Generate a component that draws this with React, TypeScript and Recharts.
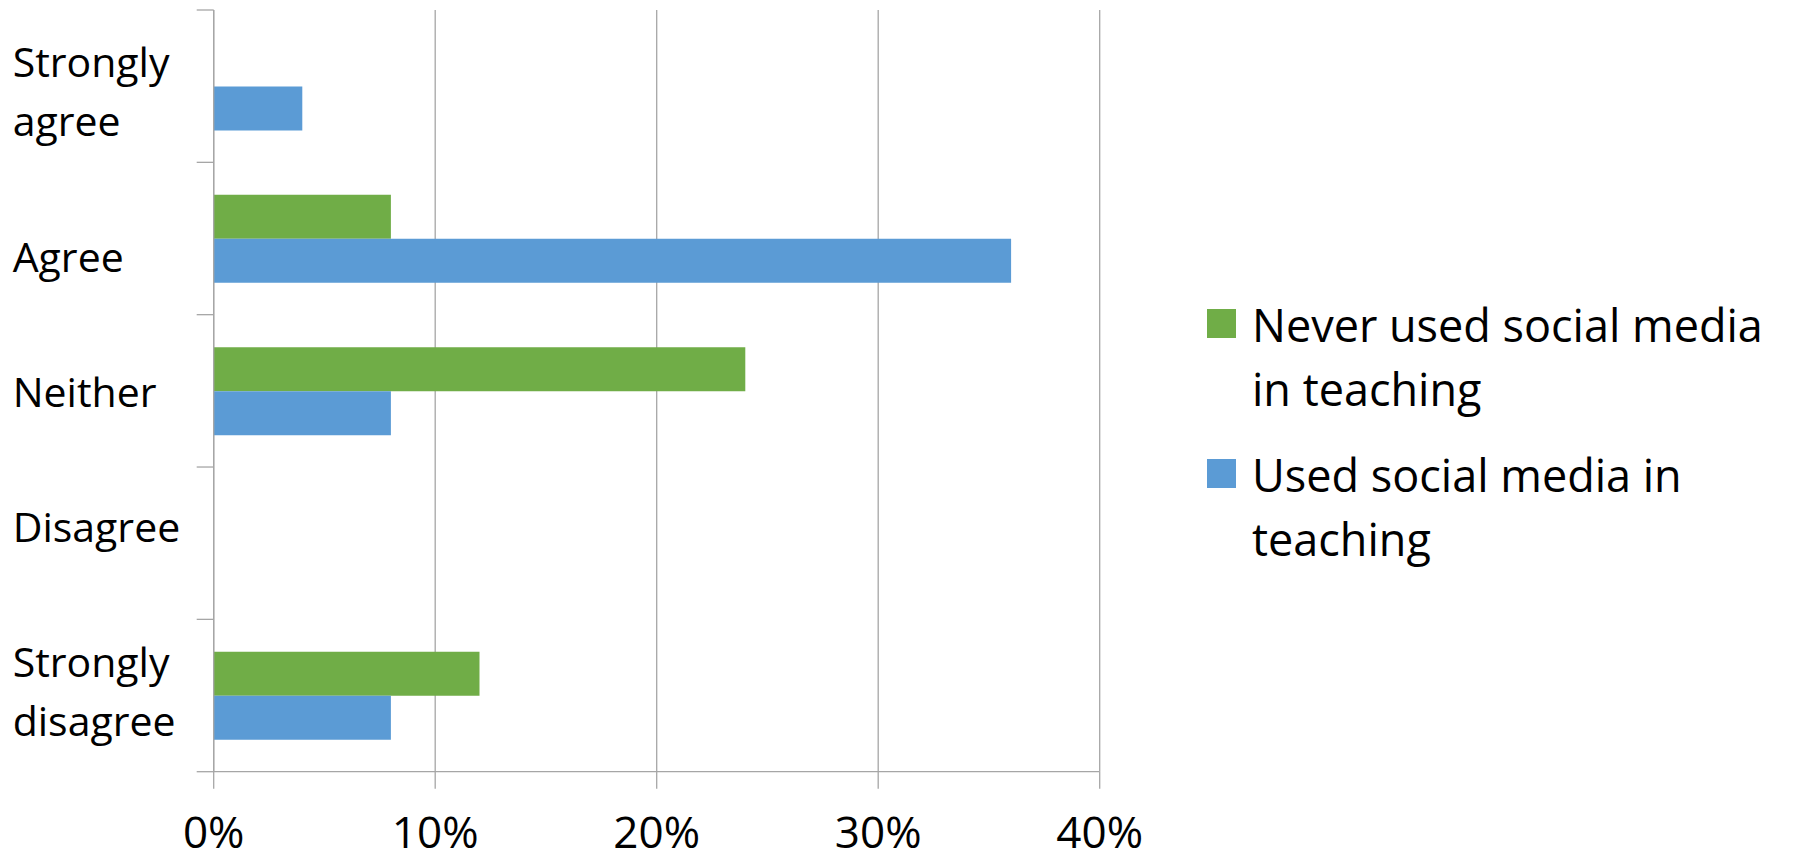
import React from 'react';
import { BarChart, Bar, XAxis, YAxis, CartesianGrid, Legend } from 'recharts';

const categories = ['Strongly agree', 'Agree', 'Neither', 'Disagree', 'Strongly disagree'];
const neverUsed = [0, 8, 24, 0, 12];
const used = [4, 36, 8, 0, 8];
const xTicks = [0, 10, 20, 30, 40];
const seriesNames = ['Never used social media in teaching', 'Used social media in teaching'];
const seriesColors = ['#70AD47', '#5B9BD5'];

// style: small vertical nudges of category labels (Excel-like placement)
const labelNudge = [6, 19, 2, -16, -4];

const data = categories.map((c, i) => ({ category: c, never: neverUsed[i], used: used[i] }));

const GRID = '#a6a6a6';
const FONT = '"Open Sans", sans-serif';

const YTick = (props: any) => {
  const { x, y, payload, index, visibleTicksCount } = props;
  const half = typeof payload?.offset === 'number' && payload.offset > 0 ? payload.offset : 76.17;
  const value = String(payload.value);
  const words = value.split(' ');
  const lines = words.length > 1 ? words : [value];
  const lh = 59;
  const nudge = labelNudge[index] ?? 0;
  const firstBaseline = y + 14.6 + nudge - ((lines.length - 1) * lh) / 2;
  const count = visibleTicksCount ?? categories.length;
  const tx = x - 201;
  return (
    <g>
      <line x1={x - 17} x2={x} y1={y - half} y2={y - half} stroke={GRID} strokeWidth={1.3} />
      {index === count - 1 && (
        <line x1={x - 17} x2={x} y1={y + half} y2={y + half} stroke={GRID} strokeWidth={1.3} />
      )}
      <text x={tx} y={firstBaseline} fontSize={41} fill="#000" textAnchor="start" fontFamily={FONT}>
        {lines.map((l, i) => (
          <tspan key={i} x={tx} dy={i === 0 ? 0 : lh}>
            {l}
          </tspan>
        ))}
      </text>
    </g>
  );
};

const LegendContent = (props: any) => {
  const payload = props.payload && props.payload.length ? props.payload : seriesNames.map((n, i) => ({ value: n, color: seriesColors[i] }));
  return (
    <div style={{ fontFamily: FONT }}>
      {payload.map((p: any, i: number) => (
        <div key={i} style={{ display: 'flex', alignItems: 'flex-start', marginBottom: 22 }}>
          <div style={{ width: 29, height: 29, marginTop: 16, background: p.color, flex: '0 0 auto' }} />
          <div style={{ marginLeft: 16, width: 520, fontSize: 45, lineHeight: '64px', color: '#000' }}>{p.value}</div>
        </div>
      ))}
    </div>
  );
};

export default function App() {
  return (
    <div style={{ width: 1794, height: 861, overflow: 'hidden', position: 'relative', background: '#fff' }}>
      <style>{'html,body{margin:0;padding:0;overflow:hidden;background:#fff}'}</style>
      <div style={{ position: 'absolute', left: 8, top: 8 }}>
        <BarChart
          width={1786}
          height={853}
          data={data}
          layout="vertical"
          margin={{ top: 2, right: 694.3, bottom: 9.3, left: 0 }}
          barCategoryGap="21.3%"
          barGap={0}
        >
          <CartesianGrid horizontal={false} vertical={true} stroke={GRID} strokeWidth={1.3} />
          <XAxis
            type="number"
            domain={[0, 40]}
            ticks={xTicks}
            interval={0}
            tickFormatter={(v: number) => `${v}%`}
            tickSize={17}
            tickMargin={28}
            height={80}
            axisLine={{ stroke: GRID, strokeWidth: 1.3 }}
            tickLine={{ stroke: GRID, strokeWidth: 1.3 }}
            tick={{ fontSize: 44, fill: '#000', fontFamily: FONT }}
          />
          <YAxis
            type="category"
            dataKey="category"
            width={205.7}
            interval={0}
            tickSize={0}
            tickMargin={0}
            tickLine={false}
            axisLine={{ stroke: GRID, strokeWidth: 1.3 }}
            tick={<YTick />}
          />
          <Legend
            layout="horizontal"
            verticalAlign="middle"
            align="center"
            wrapperStyle={{ left: 1199, top: 285, width: 580 }}
            content={<LegendContent />}
          />
          <Bar dataKey="never" name={seriesNames[0]} fill={seriesColors[0]} isAnimationActive={false} />
          <Bar dataKey="used" name={seriesNames[1]} fill={seriesColors[1]} isAnimationActive={false} />
        </BarChart>
      </div>
    </div>
  );
}
